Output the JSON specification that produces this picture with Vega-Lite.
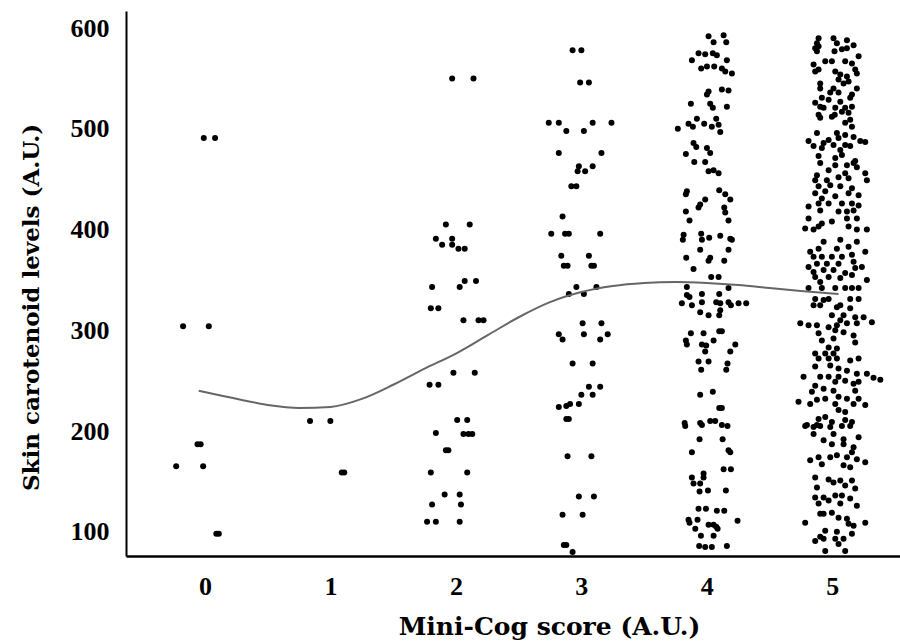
{
"$schema":"https://vega.github.io/schema/vega-lite/v6.json",
"width":774,"height":545,
"autosize":{"type":"none"},
"padding":{"left":126,"top":11,"right":0,"bottom":85},
"background":"white",
"config":{"view":{"stroke":null}},
"datasets":{
"curve":[{"score":-0.05,"level":240},{"score":0.25,"level":232},{"score":0.5,"level":226},{"score":0.75,"level":223},{"score":1.0,"level":224},{"score":1.25,"level":232},{"score":1.5,"level":246},{"score":1.75,"level":262},{"score":2.0,"level":277},{"score":2.25,"level":295},{"score":2.5,"level":313},{"score":2.75,"level":328},{"score":3.0,"level":338},{"score":3.25,"level":344},{"score":3.5,"level":347},{"score":3.75,"level":348},{"score":4.0,"level":347},{"score":4.25,"level":345},{"score":4.5,"level":342},{"score":4.75,"level":339},{"score":5.05,"level":336}],
"pts":[
{"score":-0.175,"level":304},{"score":0.03,"level":304},{"score":-0.06,"level":187},{"score":-0.035,"level":187},{"score":-0.23,"level":165},{"score":-0.015,"level":165},{"score":0.09,"level":98},{"score":0.11,"level":98},{"score":-0.01,"level":491},{"score":0.08,"level":491},
{"score":0.837,"level":210},{"score":0.999,"level":210},{"score":1.09,"level":159},{"score":1.11,"level":159},
{"score":1.97,"level":550},{"score":2.14,"level":550},{"score":1.92,"level":405},{"score":2.11,"level":405},{"score":1.84,"level":391},{"score":1.89,"level":385},{"score":1.97,"level":391},{"score":1.97,"level":385},{"score":2.02,"level":381},{"score":2.07,"level":381},{"score":1.81,"level":343},{"score":2.03,"level":343},{"score":2.07,"level":349},{"score":2.16,"level":349},{"score":1.80,"level":322},{"score":1.86,"level":322},{"score":2.06,"level":310},{"score":2.18,"level":310},{"score":2.22,"level":310},{"score":1.98,"level":258},{"score":2.15,"level":258},{"score":1.79,"level":246},{"score":1.86,"level":246},{"score":2.01,"level":211},{"score":2.09,"level":211},{"score":1.84,"level":198},{"score":2.06,"level":197},{"score":2.10,"level":197},{"score":2.13,"level":197},{"score":1.92,"level":181},{"score":1.94,"level":181},{"score":1.80,"level":159},{"score":2.09,"level":159},{"score":1.91,"level":137},{"score":2.03,"level":137},{"score":1.81,"level":127},{"score":2.04,"level":127},{"score":1.77,"level":110},{"score":1.84,"level":110},{"score":2.03,"level":110},
{"score":2.93,"level":578},{"score":3.0,"level":578},{"score":2.99,"level":546},{"score":3.06,"level":546},{"score":2.74,"level":506},{"score":2.82,"level":506},{"score":2.88,"level":498},{"score":3.02,"level":498},{"score":3.09,"level":506},{"score":3.24,"level":506},{"score":2.82,"level":476},{"score":3.16,"level":476},{"score":2.98,"level":463},{"score":2.97,"level":458},{"score":3.03,"level":458},{"score":3.09,"level":463},{"score":2.92,"level":443},{"score":2.96,"level":443},{"score":2.85,"level":413},{"score":2.76,"level":396},{"score":2.87,"level":396},{"score":2.90,"level":396},{"score":3.15,"level":396},{"score":2.84,"level":374},{"score":3.06,"level":374},{"score":2.86,"level":364},{"score":2.89,"level":364},{"score":3.08,"level":364},{"score":3.10,"level":364},{"score":2.96,"level":343},{"score":2.90,"level":336},{"score":3.02,"level":336},{"score":3.12,"level":343},{"score":3.01,"level":307},{"score":3.16,"level":307},{"score":2.82,"level":296},{"score":2.85,"level":291},{"score":3.02,"level":296},{"score":3.15,"level":291},{"score":3.21,"level":296},{"score":2.93,"level":267},{"score":3.09,"level":267},{"score":3.06,"level":244},{"score":3.15,"level":244},{"score":3.00,"level":236},{"score":3.09,"level":236},{"score":2.98,"level":227},{"score":2.91,"level":227},{"score":2.88,"level":225},{"score":2.82,"level":224},{"score":2.88,"level":212},{"score":2.90,"level":212},{"score":2.89,"level":175},{"score":3.08,"level":175},{"score":2.98,"level":135},{"score":3.10,"level":135},{"score":2.85,"level":117},{"score":3.01,"level":117},{"score":2.86,"level":87},{"score":2.88,"level":87},{"score":2.93,"level":80},
{"score":4.014,"level":592},{"score":4.054,"level":586},{"score":4.134,"level":593},{"score":4.155,"level":586},{"score":3.881,"level":568},{"score":3.934,"level":575},{"score":3.987,"level":574},{"score":4.048,"level":575},{"score":4.080,"level":573},{"score":4.160,"level":568},{"score":3.955,"level":560},{"score":4.001,"level":562},{"score":4.059,"level":562},{"score":4.120,"level":560},{"score":4.147,"level":557},{"score":4.200,"level":555},{"score":4.014,"level":537},{"score":4.001,"level":534},{"score":4.120,"level":539},{"score":4.173,"level":538},{"score":3.873,"level":525},{"score":4.027,"level":525},{"score":4.048,"level":521},{"score":4.160,"level":522},{"score":3.921,"level":510},{"score":3.854,"level":505},{"score":3.889,"level":502},{"score":3.979,"level":505},{"score":4.075,"level":510},{"score":4.040,"level":502},{"score":4.094,"level":504},{"score":4.107,"level":497},{"score":3.769,"level":500},{"score":3.894,"level":486},{"score":3.916,"level":482},{"score":3.833,"level":475},{"score":4.001,"level":481},{"score":4.027,"level":476},{"score":3.900,"level":467},{"score":3.987,"level":467},{"score":4.014,"level":458},{"score":4.054,"level":459},{"score":4.094,"level":456},{"score":3.841,"level":438},{"score":3.833,"level":435},{"score":4.099,"level":439},{"score":4.147,"level":435},{"score":4.187,"level":430},{"score":3.987,"level":430},{"score":3.947,"level":425},{"score":3.934,"level":422},{"score":3.833,"level":418},{"score":3.862,"level":409},{"score":4.139,"level":422},{"score":4.147,"level":417},{"score":4.173,"level":409},{"score":3.815,"level":395},{"score":3.809,"level":390},{"score":3.955,"level":396},{"score":3.961,"level":390},{"score":4.019,"level":392},{"score":4.107,"level":394},{"score":4.187,"level":391},{"score":4.200,"level":390},{"score":3.947,"level":380},{"score":4.173,"level":380},{"score":3.836,"level":372},{"score":4.027,"level":372},{"score":4.014,"level":369},{"score":4.139,"level":369},{"score":3.894,"level":361},{"score":4.035,"level":353},{"score":4.094,"level":353},{"score":3.841,"level":343},{"score":4.173,"level":342},
{"score":3.841,"level":335},{"score":3.862,"level":333},{"score":3.961,"level":336},{"score":4.099,"level":336},{"score":3.801,"level":327},{"score":3.881,"level":325},{"score":3.961,"level":328},{"score":4.075,"level":328},{"score":4.107,"level":327},{"score":4.173,"level":328},{"score":4.192,"level":325},{"score":4.253,"level":327},{"score":4.314,"level":327},{"score":3.947,"level":318},{"score":4.014,"level":315},{"score":4.099,"level":315},{"score":4.107,"level":320},{"score":3.873,"level":297},{"score":3.974,"level":297},{"score":4.099,"level":299},{"score":4.120,"level":299},{"score":4.054,"level":290},{"score":3.833,"level":290},{"score":3.841,"level":286},{"score":3.961,"level":286},{"score":3.995,"level":285},{"score":3.987,"level":279},{"score":4.227,"level":286},{"score":4.187,"level":279},{"score":3.934,"level":269},{"score":4.014,"level":269},{"score":4.165,"level":267},{"score":4.155,"level":261},{"score":3.955,"level":261},{"score":3.947,"level":236},{"score":4.048,"level":239},{"score":4.099,"level":223},{"score":4.120,"level":223},{"score":3.823,"level":208},{"score":3.828,"level":205},{"score":3.947,"level":208},{"score":3.961,"level":206},{"score":4.027,"level":210},{"score":4.067,"level":210},{"score":4.120,"level":206},{"score":4.165,"level":205},{"score":3.942,"level":192},{"score":4.126,"level":192},{"score":3.881,"level":179},{"score":4.173,"level":181},{"score":4.187,"level":179},{"score":4.134,"level":162},{"score":4.192,"level":162},{"score":3.881,"level":154},{"score":3.974,"level":158},{"score":3.974,"level":154},{"score":3.894,"level":148},{"score":3.947,"level":148},{"score":3.942,"level":140},{"score":4.009,"level":141},{"score":4.152,"level":141},{"score":3.934,"level":123},{"score":3.993,"level":123},{"score":4.080,"level":121},{"score":4.139,"level":121},{"score":3.854,"level":112},{"score":3.862,"level":109},{"score":3.926,"level":112},{"score":3.908,"level":103},{"score":4.014,"level":107},{"score":4.054,"level":107},{"score":4.075,"level":105},{"score":4.086,"level":103},{"score":4.245,"level":111},{"score":3.953,"level":96},{"score":4.054,"level":96},{"score":3.939,"level":86},{"score":3.987,"level":85},{"score":4.040,"level":85},{"score":4.160,"level":86},
{"score":4.891,"level":590},{"score":4.878,"level":585},{"score":4.864,"level":580},{"score":4.891,"level":582},{"score":5.010,"level":590},{"score":5.037,"level":585},{"score":5.117,"level":588},{"score":5.170,"level":583},{"score":5.117,"level":580},{"score":5.077,"level":579},{"score":5.018,"level":577},{"score":4.878,"level":577},{"score":5.210,"level":572},{"score":4.851,"level":564},{"score":4.944,"level":567},{"score":4.997,"level":567},{"score":5.103,"level":567},{"score":5.157,"level":565},{"score":4.864,"level":557},{"score":4.891,"level":559},{"score":5.024,"level":557},{"score":5.064,"level":554},{"score":5.183,"level":559},{"score":5.117,"level":552},{"score":5.196,"level":555},{"score":5.050,"level":549},{"score":4.904,"level":545},{"score":5.130,"level":547},{"score":4.904,"level":540},{"score":5.010,"level":540},{"score":5.090,"level":545},{"score":5.196,"level":540},{"score":4.984,"level":536},{"score":5.050,"level":536},{"score":5.157,"level":534},{"score":4.917,"level":531},{"score":4.971,"level":529},{"score":5.143,"level":531},{"score":4.864,"level":526},{"score":5.064,"level":527},{"score":4.904,"level":522},{"score":5.024,"level":521},{"score":4.931,"level":521},{"score":5.103,"level":521},{"score":5.157,"level":522},{"score":4.891,"level":514},{"score":4.997,"level":512},{"score":5.077,"level":517},{"score":5.130,"level":516},{"score":4.904,"level":511},{"score":5.020,"level":514},{"score":5.143,"level":509},{"score":5.103,"level":506},{"score":5.157,"level":502},{"score":4.878,"level":496},{"score":5.037,"level":496},{"score":4.811,"level":488},{"score":4.851,"level":483},{"score":4.931,"level":486},{"score":4.971,"level":489},{"score":5.050,"level":491},{"score":5.103,"level":494},{"score":5.170,"level":492},{"score":5.223,"level":488},{"score":5.263,"level":487},{"score":4.917,"level":481},{"score":5.010,"level":484},{"score":5.103,"level":484},{"score":5.143,"level":483},{"score":5.064,"level":479},{"score":4.891,"level":473},{"score":5.024,"level":471},{"score":5.077,"level":474},{"score":5.183,"level":468},
{"score":4.904,"level":466},{"score":4.971,"level":459},{"score":5.024,"level":464},{"score":5.117,"level":464},{"score":5.170,"level":466},{"score":4.878,"level":454},{"score":5.103,"level":456},{"score":5.196,"level":462},{"score":5.263,"level":456},{"score":4.864,"level":449},{"score":4.957,"level":449},{"score":5.050,"level":452},{"score":5.130,"level":451},{"score":5.276,"level":449},{"score":4.891,"level":443},{"score":4.984,"level":444},{"score":5.064,"level":443},{"score":5.157,"level":441},{"score":4.864,"level":436},{"score":4.944,"level":438},{"score":4.917,"level":431},{"score":5.024,"level":433},{"score":5.130,"level":436},{"score":5.210,"level":434},{"score":4.811,"level":423},{"score":4.891,"level":426},{"score":4.971,"level":426},{"score":5.077,"level":426},{"score":5.157,"level":426},{"score":5.210,"level":424},{"score":4.904,"level":419},{"score":5.050,"level":418},{"score":5.117,"level":418},{"score":5.170,"level":419},{"score":4.811,"level":411},{"score":4.917,"level":406},{"score":5.117,"level":411},{"score":5.196,"level":411},{"score":4.784,"level":401},{"score":4.851,"level":400},{"score":4.891,"level":403},{"score":4.997,"level":408},{"score":5.130,"level":403},{"score":5.196,"level":400},{"score":5.276,"level":400},{"score":4.931,"level":388},{"score":5.064,"level":390},{"score":5.196,"level":388},{"score":4.891,"level":381},{"score":5.037,"level":381},{"score":4.824,"level":378},{"score":5.130,"level":383},{"score":5.263,"level":378},{"score":4.851,"level":373},{"score":4.917,"level":373},{"score":4.997,"level":373},{"score":5.077,"level":373},{"score":5.157,"level":375},{"score":4.878,"level":366},{"score":4.957,"level":366},{"score":5.050,"level":366},{"score":5.170,"level":368},{"score":5.236,"level":363},{"score":4.811,"level":363},{"score":4.851,"level":358},{"score":4.931,"level":360},{"score":5.010,"level":360},{"score":5.103,"level":357},{"score":5.183,"level":362},{"score":4.864,"level":353},{"score":4.971,"level":353},{"score":5.064,"level":352},{"score":5.157,"level":355},{"score":5.276,"level":350},{"score":4.904,"level":348},{"score":4.811,"level":342},{"score":4.917,"level":342},{"score":5.024,"level":342},{"score":5.103,"level":342},{"score":5.157,"level":342},{"score":5.210,"level":342},
{"score":4.864,"level":331},{"score":4.931,"level":330},{"score":4.971,"level":331},{"score":5.064,"level":325},{"score":5.143,"level":331},{"score":5.210,"level":331},{"score":4.851,"level":325},{"score":4.904,"level":325},{"score":5.037,"level":323},{"score":5.143,"level":322},{"score":4.997,"level":315},{"score":5.090,"level":315},{"score":5.183,"level":313},{"score":5.250,"level":313},{"score":5.064,"level":310},{"score":4.745,"level":307},{"score":4.811,"level":305},{"score":4.878,"level":305},{"score":4.971,"level":303},{"score":5.037,"level":305},{"score":5.117,"level":307},{"score":5.196,"level":307},{"score":5.316,"level":308},{"score":4.891,"level":297},{"score":5.024,"level":300},{"score":5.090,"level":298},{"score":4.917,"level":290},{"score":5.010,"level":292},{"score":5.170,"level":295},{"score":5.183,"level":288},{"score":4.971,"level":283},{"score":5.037,"level":282},{"score":4.864,"level":277},{"score":4.944,"level":277},{"score":5.010,"level":277},{"score":4.891,"level":272},{"score":4.971,"level":272},{"score":5.037,"level":272},{"score":5.143,"level":270},{"score":5.210,"level":272},{"score":4.864,"level":264},{"score":4.984,"level":265},{"score":5.050,"level":262},{"score":5.117,"level":260},{"score":4.771,"level":254},{"score":4.904,"level":254},{"score":4.971,"level":254},{"score":5.050,"level":254},{"score":5.196,"level":257},{"score":5.276,"level":257},{"score":5.329,"level":253},{"score":5.383,"level":251},{"score":5.024,"level":249},{"score":5.103,"level":250},{"score":4.864,"level":245},{"score":4.931,"level":242},{"score":5.010,"level":240},{"score":5.170,"level":247},{"score":5.210,"level":249},{"score":4.838,"level":239},{"score":5.183,"level":240},{"score":4.944,"level":232},{"score":5.050,"level":234},{"score":5.117,"level":232},{"score":5.210,"level":232},{"score":4.731,"level":229},{"score":4.824,"level":227},{"score":4.878,"level":231},{"score":5.024,"level":227},{"score":5.170,"level":227},{"score":5.263,"level":226},{"score":5.050,"level":221},{"score":5.103,"level":219},{"score":4.891,"level":212},{"score":4.944,"level":214},{"score":4.997,"level":209},{"score":5.103,"level":211},{"score":4.798,"level":206},{"score":4.878,"level":206},{"score":5.157,"level":209},
{"score":4.784,"level":205},{"score":4.851,"level":204},{"score":4.904,"level":205},{"score":4.984,"level":204},{"score":5.077,"level":205},{"score":5.143,"level":205},{"score":4.851,"level":197},{"score":5.010,"level":197},{"score":5.090,"level":192},{"score":5.210,"level":194},{"score":4.931,"level":191},{"score":4.997,"level":187},{"score":5.090,"level":187},{"score":5.170,"level":184},{"score":5.157,"level":179},{"score":4.824,"level":171},{"score":4.891,"level":174},{"score":4.917,"level":167},{"score":4.984,"level":174},{"score":5.037,"level":176},{"score":5.117,"level":174},{"score":5.196,"level":172},{"score":5.263,"level":169},{"score":5.090,"level":166},{"score":5.143,"level":164},{"score":4.864,"level":154},{"score":4.971,"level":152},{"score":5.010,"level":149},{"score":5.064,"level":151},{"score":5.103,"level":146},{"score":5.157,"level":151},{"score":4.878,"level":144},{"score":5.183,"level":143},{"score":4.864,"level":134},{"score":4.931,"level":134},{"score":4.971,"level":131},{"score":5.024,"level":136},{"score":5.077,"level":136},{"score":5.143,"level":133},{"score":4.891,"level":128},{"score":5.064,"level":128},{"score":5.196,"level":126},{"score":4.931,"level":118},{"score":4.997,"level":119},{"score":5.050,"level":114},{"score":5.117,"level":113},{"score":4.904,"level":118},{"score":4.784,"level":109},{"score":5.130,"level":108},{"score":5.263,"level":109},{"score":5.170,"level":106},{"score":4.944,"level":101},{"score":5.037,"level":100},{"score":5.157,"level":98},{"score":4.864,"level":91},{"score":4.931,"level":93},{"score":5.024,"level":93},{"score":5.090,"level":93},{"score":4.904,"level":95},{"score":5.050,"level":88},{"score":4.944,"level":81},{"score":5.103,"level":81}
]},
"encoding":{
"x":{"field":"score","type":"quantitative","scale":{"domain":[-0.63,5.54],"nice":false,"zero":false},
"axis":{"values":[0,1,2,3,4,5],"format":"d","ticks":false,"grid":false,"domainColor":"#000000","domainWidth":2.5,"labelFont":"Liberation Serif","labelFontWeight":"bold","labelFontSize":26,"labelColor":"#000000","labelPadding":17,"title":"Mini-Cog score (A.U.)","titleFont":"DejaVu Serif","titleFontWeight":"bold","titleFontSize":25,"titleColor":"#000000","titlePadding":15,"titleX":423,"titleAlign":"center"}},
"y":{"field":"level","type":"quantitative","scale":{"domain":[76,617],"nice":false,"zero":false},
"axis":{"values":[100,200,300,400,500,600],"ticks":false,"grid":false,"domainColor":"#000000","domainWidth":2,"labelFont":"Liberation Serif","labelFontWeight":"bold","labelFontSize":26,"labelColor":"#000000","labelPadding":17,"title":"Skin carotenoid levels (A.U.)","titleFont":"DejaVu Serif","titleFontWeight":"bold","titleFontSize":23,"titleColor":"#000000","titlePadding":27,"titleY":296,"titleAlign":"center"}}
},
"layer":[
{"data":{"name":"pts"},"mark":{"type":"point","shape":"circle","filled":true,"color":"#000000","opacity":1,"size":36}},
{"data":{"name":"curve"},"mark":{"type":"line","color":"#666666","strokeWidth":2,"interpolate":"monotone"}}
]
}
